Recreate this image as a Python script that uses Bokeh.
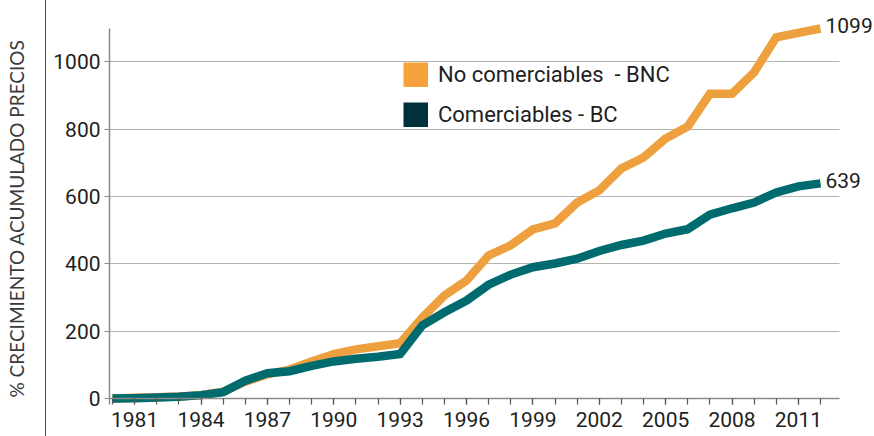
from bokeh.plotting import figure
from bokeh.models import Range1d, FixedTicker, Legend, LegendItem, Label
from bokeh.embed import file_html
from bokeh.resources import INLINE

# ---- data ----
years = [1980, 1981, 1982, 1983, 1984, 1985, 1986, 1987, 1988, 1989, 1990,
         1991, 1992, 1993, 1994, 1995, 1996, 1997, 1998, 1999, 2000, 2001,
         2002, 2003, 2004, 2005, 2006, 2007, 2008, 2009, 2010, 2011, 2012]
bnc = [0, 2, 4, 6, 10, 20, 50, 72, 86, 110, 132, 146, 155, 164, 240, 306, 350,
       425, 455, 502, 520, 582, 618, 683, 716, 772, 808, 905, 905, 969, 1073,
       1086, 1099]
bc = [0, 1, 3, 5, 10, 19, 53, 75, 81, 97, 110, 118, 124, 132, 217, 256, 291,
      338, 368, 390, 401, 415, 438, 456, 469, 490, 503, 546, 565, 582, 612,
      630, 639]
label_years = [1981, 1984, 1987, 1990, 1993, 1996, 1999, 2002, 2005, 2008, 2011]
y_ticks = [0, 200, 400, 600, 800, 1000]
series_names = ["No comerciables  - BNC", "Comerciables - BC"]
y_title = "% CRECIMIENTO ACUMULADO PRECIOS"

ORANGE = "#EE9F3E"
TEAL = "#006B6F"
LEG_ORANGE = "#F5A23B"
LEG_DARK = "#00313B"
TXT = "#1e1e1e"
AXIS = "#8a8a8a"
FONT = "Roboto"

# axis extents (data units)
x_lo, x_hi = 1979.864, 2012.859
y_lo, y_hi = -17.8, 1099

p = figure(width=874, height=436, output_backend="svg", toolbar_location=None,
           x_range=Range1d(x_lo, 2014.44), y_range=Range1d(-112.9, 1182.1),
           min_border_left=109, min_border_right=0, min_border_top=0,
           min_border_bottom=0)
p.border_fill_color = None
p.background_fill_color = None
p.outline_line_color = None
p.styles = {"background-image": "linear-gradient(to right, transparent 45px, #0b6b73 45px, #0b6b73 46px, transparent 46px)"}

# grid
p.xgrid.grid_line_color = None
p.ygrid.grid_line_color = "#b3b3b3"
p.ygrid.grid_line_width = 1.2
p.ygrid.ticker = FixedTicker(ticks=[t for t in y_ticks if t > 0])
p.ygrid.cross_bounds = (x_lo, x_hi)

# lines
p.line(years, bnc, line_color=ORANGE, line_width=8.5, line_join="miter")
p.line(years, bc, line_color=TEAL, line_width=8.5, line_join="miter")

# end labels
p.add_layout(Label(x=years[-1], y=bnc[-1], text=str(bnc[-1]), x_offset=5, y_offset=3,
                   text_baseline="middle", text_font=FONT, text_font_size="21px",
                   text_color=TXT))
p.add_layout(Label(x=years[-1], y=bc[-1], text=str(bc[-1]), x_offset=5, y_offset=3,
                   text_baseline="middle", text_font=FONT, text_font_size="21px",
                   text_color=TXT))

# legend swatches: single-point line renderers (draw nothing in the plot,
# but give the legend a thick butt-capped stub = square swatch)
r1 = p.line(years[:1], bnc[:1], line_color=LEG_ORANGE, line_width=25, line_cap="butt")
r2 = p.line(years[:1], bc[:1], line_color=LEG_DARK, line_width=25, line_cap="butt")
legend = Legend(items=[LegendItem(label=series_names[0], renderers=[r1]),
                       LegendItem(label=series_names[1], renderers=[r2])],
                location=(294, 309), orientation="vertical",
                glyph_width=25, glyph_height=25, label_height=25, spacing=15,
                label_standoff=10, padding=0, margin=0,
                background_fill_alpha=0, border_line_color=None,
                label_text_font=FONT, label_text_font_size="22px",
                label_text_color=TXT)
p.add_layout(legend, "center")

# axes
xa = p.xaxis[0]
xa.fixed_location = 0
xa.bounds = (x_lo, x_hi)
xa.ticker = FixedTicker(ticks=label_years, minor_ticks=years)
xa.major_tick_out = 6
xa.major_tick_in = 0
xa.minor_tick_out = 6
xa.minor_tick_in = 0
xa.major_label_standoff = 8
xa.axis_line_color = AXIS
xa.axis_line_width = 1.5
xa.major_tick_line_color = "#555555"
xa.minor_tick_line_color = "#555555"
xa.major_tick_line_width = 1.2
xa.minor_tick_line_width = 1.2
xa.major_label_text_font = FONT
xa.major_label_text_font_size = "21px"
xa.major_label_text_color = TXT

ya = p.yaxis[0]
ya.bounds = (y_lo, y_hi)
ya.ticker = FixedTicker(ticks=y_ticks)
ya.major_tick_out = 5
ya.major_tick_in = 0
ya.minor_tick_line_color = None
ya.major_label_standoff = 4
ya.axis_line_color = AXIS
ya.axis_line_width = 1.5
ya.major_tick_line_color = AXIS
ya.major_label_text_font = FONT
ya.major_label_text_font_size = "21px"
ya.major_label_text_color = TXT
ya.axis_label = y_title
ya.axis_label_text_font = "Lato"
ya.axis_label_text_font_style = "normal"
ya.axis_label_text_font_size = "19px"
ya.axis_label_text_color = "#3a3a3a"
ya.axis_label_standoff = 22

open("out.html", "w").write(file_html(p, INLINE))
